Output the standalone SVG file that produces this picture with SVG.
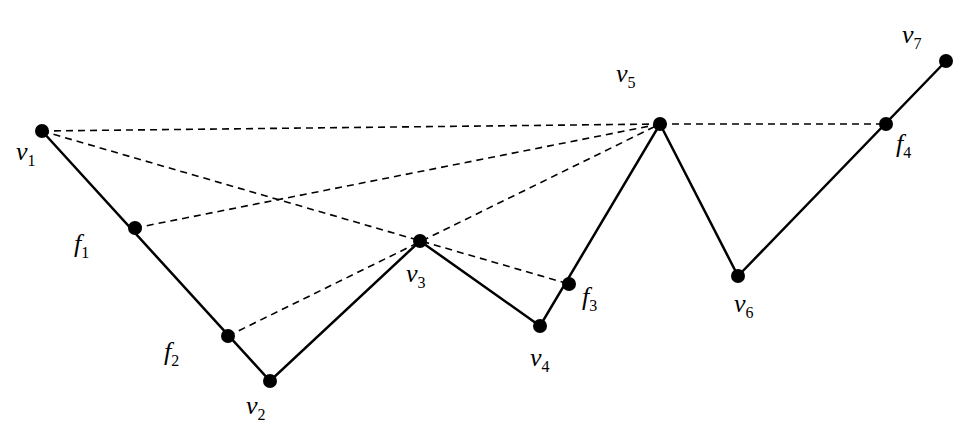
<svg xmlns="http://www.w3.org/2000/svg" width="955" height="439" viewBox="0 0 955 439">
<style>
.s{stroke:#000;stroke-width:2.5;fill:none}
.d{stroke:#000;stroke-width:1.6;fill:none;stroke-dasharray:7,5}
.p{fill:#000}
text{font-family:'Liberation Serif','Times New Roman','DejaVu Serif',serif;font-style:italic;font-size:26px}
.sub{font-size:16px;font-style:normal}
</style>
<rect width="955" height="439" fill="#fff"/>
<g id="connectors">
<line class="d" x1="42" y1="131" x2="660" y2="124"/>
<line class="d" x1="42" y1="131" x2="569" y2="284"/>
<line class="d" x1="135" y1="228" x2="660" y2="124"/>
<line class="d" x1="228" y1="336" x2="660" y2="124"/>
<line class="d" x1="660" y1="124" x2="886" y2="124"/>
<polyline class="s" points="42,131 270,381 420,241 540,326 660,124 738,276 946,61"/>
</g>
<g id="v1"><circle class="p" cx="42" cy="131" r="7"/><text x="16" y="160">v<tspan class="sub" dy="6">1</tspan></text></g>
<g id="f1"><circle class="p" cx="135" cy="228" r="7"/><text x="74" y="252">f<tspan class="sub" dy="6">1</tspan></text></g>
<g id="f2"><circle class="p" cx="228" cy="336" r="7"/><text x="164" y="360">f<tspan class="sub" dy="6">2</tspan></text></g>
<g id="v2"><circle class="p" cx="270" cy="381" r="7"/><text x="246" y="414">v<tspan class="sub" dy="6">2</tspan></text></g>
<g id="v3"><circle class="p" cx="420" cy="241" r="7"/><text x="406" y="282">v<tspan class="sub" dy="6">3</tspan></text></g>
<g id="v4"><circle class="p" cx="540" cy="326" r="7"/><text x="530" y="366">v<tspan class="sub" dy="6">4</tspan></text></g>
<g id="f3"><circle class="p" cx="569" cy="284" r="7"/><text x="582" y="305">f<tspan class="sub" dy="6">3</tspan></text></g>
<g id="v5"><circle class="p" cx="660" cy="124" r="7"/><text x="616" y="82">v<tspan class="sub" dy="6">5</tspan></text></g>
<g id="v6"><circle class="p" cx="738" cy="276" r="7"/><text x="734" y="312">v<tspan class="sub" dy="6">6</tspan></text></g>
<g id="f4"><circle class="p" cx="886" cy="124" r="7"/><text x="896" y="152">f<tspan class="sub" dy="6">4</tspan></text></g>
<g id="v7"><circle class="p" cx="946" cy="61" r="7"/><text x="902" y="43">v<tspan class="sub" dy="6">7</tspan></text></g>
</svg>
